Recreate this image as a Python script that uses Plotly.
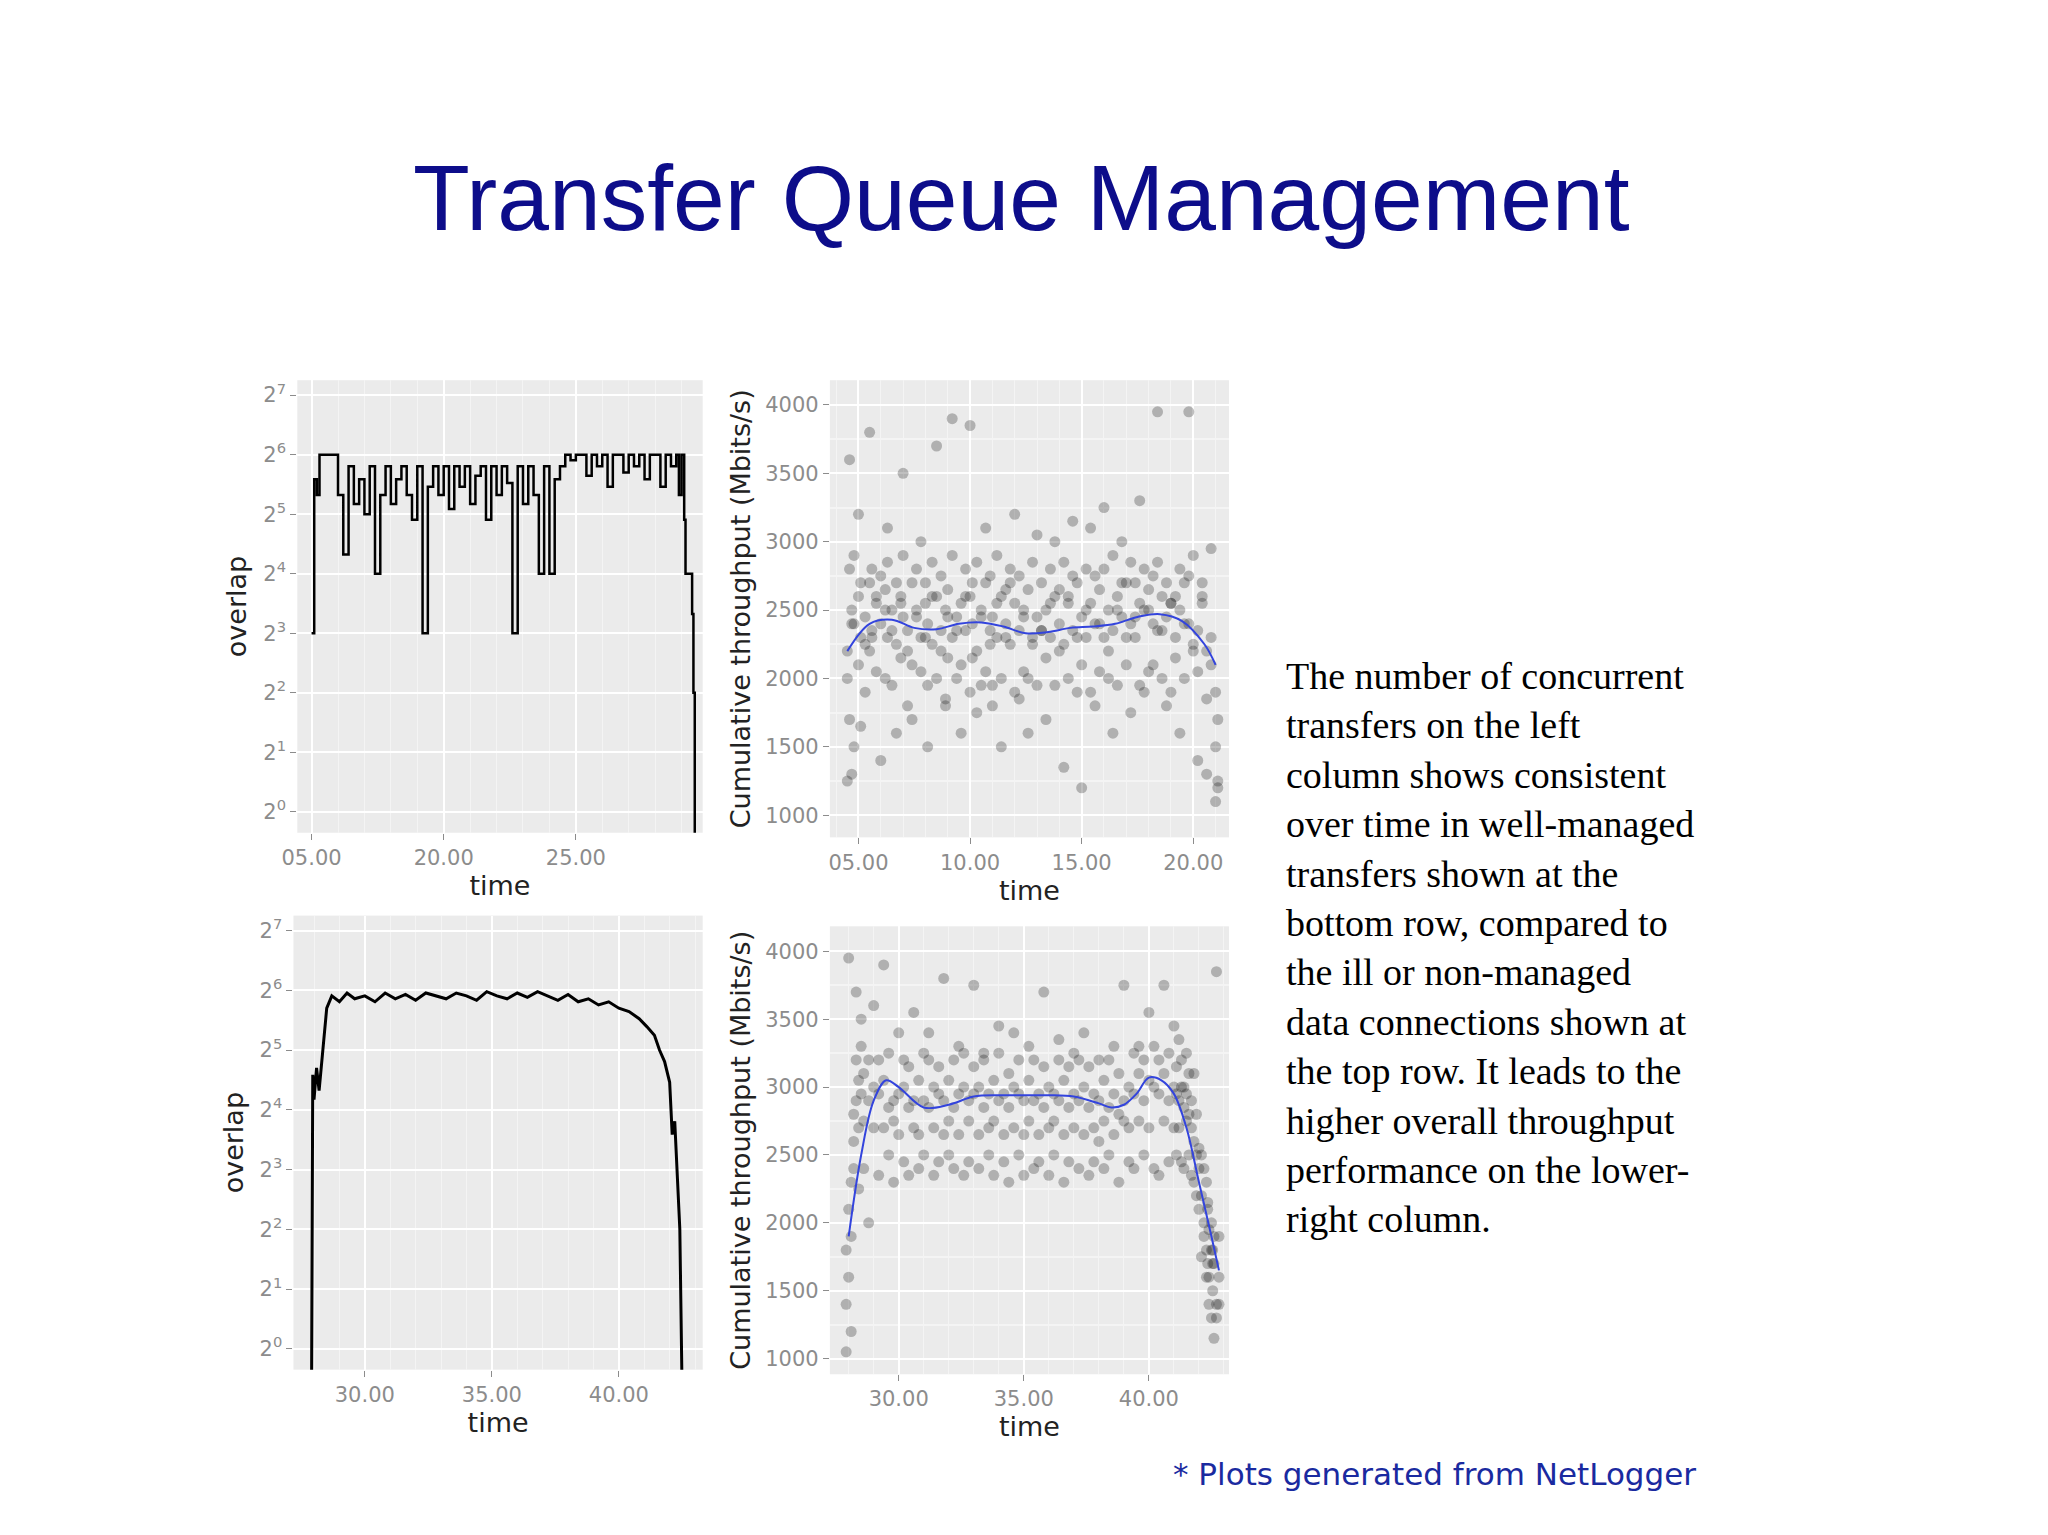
import numpy as np
import plotly.graph_objects as go
from plotly.subplots import make_subplots

# top-left: overlap, unmanaged transfers (time in minutes)
tl_time = [15.0, 15.1, 15.2, 15.3, 15.4, 15.6, 15.8, 16.0, 16.2, 16.4,
           16.6, 16.8, 17.0, 17.2, 17.4, 17.6, 17.8, 18.0, 18.2, 18.4,
           18.6, 18.8, 19.0, 19.2, 19.4, 19.6, 19.8, 20.0, 20.2, 20.4,
           20.6, 20.8, 21.0, 21.2, 21.4, 21.6, 21.8, 22.0, 22.2, 22.4,
           22.6, 22.8, 23.0, 23.2, 23.4, 23.6, 23.8, 24.0, 24.2, 24.4,
           24.6, 24.8, 25.0, 25.2, 25.4, 25.6, 25.8, 26.0, 26.2, 26.4,
           26.6, 26.8, 27.0, 27.2, 27.4, 27.6, 27.8, 28.0, 28.2, 28.4,
           28.6, 28.8, 28.9, 29.0, 29.1, 29.15, 29.3, 29.4, 29.45, 29.5]
tl_overlap = [8, 48, 40, 64, 64, 64, 64, 40, 20, 56,
              36, 48, 32, 56, 16, 40, 56, 36, 48, 56,
              40, 30, 56, 8, 44, 56, 40, 56, 34, 56,
              44, 56, 36, 50, 56, 30, 56, 40, 56, 46,
              8, 56, 36, 56, 40, 16, 56, 16, 48, 56,
              64, 60, 64, 64, 50, 64, 56, 64, 44, 64,
              64, 52, 64, 56, 64, 48, 64, 64, 44, 64,
              56, 64, 40, 64, 30, 16, 16, 10, 4, 0.5]

# bottom-left: overlap, managed transfers
bl_time = [27.9, 27.95, 28.0, 28.1, 28.2, 28.3, 28.4, 28.5, 28.7, 29.0,
           29.3, 29.6, 30.0, 30.4, 30.8, 31.2, 31.6, 32.0, 32.4, 32.8,
           33.2, 33.6, 34.0, 34.4, 34.8, 35.2, 35.6, 36.0, 36.4, 36.8,
           37.2, 37.6, 38.0, 38.4, 38.8, 39.2, 39.6, 40.0, 40.4, 40.8,
           41.1, 41.4, 41.6, 41.8, 42.0, 42.1, 42.2, 42.3, 42.4, 42.5]
bl_overlap = [0.5, 24, 18, 26, 20, 28, 40, 52, 60, 56,
              62, 58, 60, 56, 62, 58, 61, 57, 62, 60,
              58, 62, 60, 57, 63, 60, 58, 62, 59, 63,
              60, 57, 61, 56, 58, 54, 56, 52, 50, 46,
              42, 38, 32, 28, 22, 12, 14, 8, 4, 0.5]

# top-right: throughput samples, unmanaged
tr_time = [4.5, 4.6, 4.7, 4.8, 5.0, 5.1, 5.3, 5.5, 5.6, 5.8,
           6.0, 6.2, 6.3, 6.5, 6.7, 6.9, 7.0, 7.2, 7.4, 7.6,
           7.8, 8.0, 8.1, 8.3, 8.5, 8.7, 8.9, 9.0, 9.2, 9.4,
           9.6, 9.8, 10.0, 10.1, 10.3, 10.5, 10.7, 10.9, 11.0, 11.2,
           11.4, 11.6, 11.8, 12.0, 12.2, 12.4, 12.6, 12.8, 13.0, 13.2,
           13.4, 13.6, 13.8, 14.0, 14.2, 14.4, 14.6, 14.8, 15.0, 15.2,
           15.4, 15.6, 15.8, 16.0, 16.2, 16.4, 16.6, 16.8, 17.0, 17.2,
           17.4, 17.6, 17.8, 18.0, 18.2, 18.4, 18.6, 18.8, 19.0, 19.2,
           19.4, 19.6, 19.8, 20.0, 20.2, 20.4, 20.6, 20.8, 21.0, 21.1]
tr_thr_a = [2200, 1700, 2500, 2400, 2600, 2300, 2450, 2700, 2350, 2550,
            2400, 2650, 2300, 2500, 2250, 2600, 2450, 2350, 2700, 2500,
            2300, 2550, 2400, 2250, 2600, 2350, 2500, 2650, 2300, 2450,
            2550, 2350, 2600, 2400, 2200, 2500, 2700, 2350, 2450, 2300,
            2600, 2400, 2250, 2550, 2350, 2500, 2650, 2300, 2450, 2350,
            2500, 2300, 2600, 2400, 2250, 2550, 2350, 2700, 2450, 2300,
            2550, 2400, 2650, 2300, 2500, 2350, 2600, 2450, 2700, 2400,
            2300, 2550, 2500, 2650, 2400, 2350, 2600, 2450, 2550, 2300,
            2500, 2700, 2400, 2250, 2350, 2600, 2200, 2100, 1900, 1700]
tr_thr_b = [2000, 2800, 1300, 2900, 2100, 2700, 1900, 2200, 2800, 2050,
            2750, 2000, 2850, 1950, 2700, 2150, 2900, 1800, 2100, 2800,
            2050, 2700, 1950, 2850, 2000, 2750, 1850, 2150, 2900, 2000,
            2100, 2800, 1900, 2700, 2850, 1950, 2050, 2750, 1800, 2900,
            2000, 2650, 2800, 1900, 2750, 2050, 2000, 2850, 1950, 2700,
            2150, 2800, 1950, 2650, 2850, 2000, 2750, 1900, 2100, 2800,
            1900, 2750, 2050, 2800, 2000, 2900, 1950, 2700, 2100, 2850,
            2700, 1950, 2800, 2050, 2750, 2850, 2000, 2700, 1900, 2600,
            2800, 2000, 2750, 2900, 2050, 2700, 1850, 2300, 1500, 1200]
tr_thr_c = [1250, 3600, 2400, 1500, 3200, 1650, 2250, 3800, 2300, 2600,
            1400, 2500, 3100, 2350, 1600, 2550, 3500, 2200, 1700, 2450,
            3000, 2300, 1500, 2600, 3700, 2200, 1800, 2450, 3900, 2350,
            1600, 2600, 3850, 2150, 1750, 2450, 3100, 2250, 1950, 2550,
            1500, 2300, 2700, 3200, 1850, 2450, 1600, 2250, 3050, 2350,
            1700, 2550, 3000, 2200, 1350, 2600, 3150, 2300, 1200, 2500,
            3100, 1800, 2400, 3250, 2200, 1600, 2500, 3000, 2300, 1750,
            2450, 3300, 1900, 2500, 2100, 3950, 2350, 1800, 2550, 2150,
            1600, 2400, 3950, 2200, 1400, 2550, 1300, 2950, 1100, 1250]
tr_smooth_t = [4.5, 5.5, 6.5, 7.5, 8.5, 9.5, 10.5, 11.5, 12.5, 13.5,
               14.5, 15.5, 16.5, 17.5, 18.5, 19.5, 20.5, 21.0]
tr_smooth = [2200, 2400, 2430, 2370, 2360, 2400, 2410, 2380, 2330, 2340,
             2370, 2380, 2400, 2450, 2470, 2420, 2250, 2100]

# bottom-right: throughput samples, managed
br_time = [27.9, 28.0, 28.1, 28.2, 28.3, 28.4, 28.5, 28.6, 28.8, 29.0,
           29.2, 29.4, 29.6, 29.8, 30.0, 30.2, 30.4, 30.6, 30.8, 31.0,
           31.2, 31.4, 31.6, 31.8, 32.0, 32.2, 32.4, 32.6, 32.8, 33.0,
           33.2, 33.4, 33.6, 33.8, 34.0, 34.2, 34.4, 34.6, 34.8, 35.0,
           35.2, 35.4, 35.6, 35.8, 36.0, 36.2, 36.4, 36.6, 36.8, 37.0,
           37.2, 37.4, 37.6, 37.8, 38.0, 38.2, 38.4, 38.6, 38.8, 39.0,
           39.2, 39.4, 39.6, 39.8, 40.0, 40.2, 40.4, 40.6, 40.8, 41.0,
           41.1, 41.2, 41.3, 41.4, 41.5, 41.6, 41.7, 41.8, 41.9, 42.0,
           42.1, 42.2, 42.3, 42.35, 42.4, 42.5, 42.55, 42.6, 42.7, 42.8]
br_thr_a = [1800, 1600, 2300, 2600, 2900, 3050, 2950, 3100, 2900, 3000,
            2950, 3050, 2850, 2900, 2950, 3000, 2850, 2900, 3050, 2900,
            2850, 3000, 2950, 2900, 3050, 2850, 2950, 3000, 2900, 2950,
            3000, 2850, 2950, 3050, 2900, 2950, 2850, 3000, 2950, 2900,
            3050, 2900, 2950, 2850, 3000, 2950, 2900, 3050, 2850, 2950,
            2900, 3000, 2850, 2950, 2900, 3050, 2850, 2950, 2800, 2900,
            3000, 2950, 3100, 2900, 3050, 3000, 2950, 3100, 2900, 3000,
            2950, 2900, 3000, 2850, 2950, 2800, 2700, 2600, 2500, 2400,
            2200, 2000, 1800, 1700, 1600, 1800, 1500, 1700, 1400, 1600]
br_thr_b = [1400, 2100, 1900, 2800, 3200, 2700, 3300, 2750, 3200, 2700,
            3200, 2700, 3250, 2750, 2650, 3200, 3150, 2700, 2650, 3250,
            3200, 2700, 3150, 2650, 2750, 3200, 2650, 3250, 2750, 3150,
            2650, 3200, 2700, 2750, 3250, 2650, 3100, 2700, 3200, 2650,
            2750, 3200, 2650, 3150, 2700, 2750, 3200, 2650, 3150, 2700,
            3200, 2650, 3150, 2700, 2600, 2750, 3200, 2650, 3100, 2750,
            2700, 3250, 2750, 3200, 2700, 3300, 3200, 2750, 3250, 2700,
            3150, 2700, 3200, 3000, 2750, 3100, 2900, 2300, 2800, 2100,
            2500, 1900, 2300, 2100, 1950, 2000, 1800, 1900, 1300, 1900]
br_thr_c = [1050, 3950, 1200, 2400, 3700, 2250, 3500, 2400, 2000, 3600,
            2350, 3900, 2500, 2300, 3400, 2450, 2350, 3550, 2400, 2500,
            3400, 2350, 2450, 3800, 2500, 2400, 3300, 2350, 2450, 3750,
            2400, 3250, 2500, 2350, 3450, 2450, 2300, 3400, 2500, 2350,
            3300, 2400, 2450, 3700, 2350, 2500, 3350, 2300, 2450, 3250,
            2400, 3400, 2350, 2450, 3200, 2400, 2500, 3300, 2300, 3750,
            2450, 2400, 3300, 2500, 3550, 2400, 2350, 3750, 2450, 3450,
            2500, 3350, 2450, 2400, 3250, 2500, 2350, 3100, 2200, 2550,
            1750, 2400, 1600, 2150, 1400, 1300, 1700, 1150, 3850, 1400]
br_smooth_t = [28.0, 28.5, 29.0, 29.5, 30.0, 31.0, 32.0, 33.0, 34.0, 35.0, 36.0, 37.0,
               38.0, 38.5, 39.0, 39.5, 40.0, 40.5, 41.0, 41.5, 42.0, 42.5, 42.8]
br_smooth = [1900, 2500, 2900, 3050, 3000, 2850, 2870, 2930, 2940, 2940, 2940, 2930,
             2880, 2850, 2870, 2950, 3070, 3050, 2950, 2700, 2300, 1900, 1650]

GRAY = "#8c8c8c"
fig = make_subplots(rows=2, cols=2)

fig.add_trace(go.Scatter(x=tl_time, y=tl_overlap, mode="lines", line_shape="hv",
                         line=dict(color="black", width=2.5)), row=1, col=1)
fig.add_trace(go.Scatter(x=bl_time, y=bl_overlap, mode="lines",
                         line=dict(color="black", width=3)), row=2, col=1)

for t, ys, st, sm, r in [(tr_time, [tr_thr_a, tr_thr_b, tr_thr_c], tr_smooth_t, tr_smooth, 1),
                         (br_time, [br_thr_a, br_thr_b, br_thr_c], br_smooth_t, br_smooth, 2)]:
    for y in ys:
        fig.add_trace(go.Scatter(x=t, y=y, mode="markers",
                                 marker=dict(color="black", opacity=0.25, size=11)), row=r, col=2)
    fig.add_trace(go.Scatter(x=st, y=sm, mode="lines", line_shape="spline",
                             line=dict(color="#3344dd", width=2)), row=r, col=2)

tickf = dict(size=21, color=GRAY, family="DejaVu Sans")
titlef = dict(size=27, color="#222", family="DejaVu Sans")
common = dict(showgrid=True, gridcolor="white", gridwidth=2, zeroline=False,
              ticks="outside", tickcolor=GRAY, ticklen=6, tickfont=tickf, title_font=titlef)

pow_vals = [1, 2, 4, 8, 16, 32, 64, 128]
pow_text = [f"2<sup>{i}</sup>" for i in range(8)]
log_range = [np.log10(2 ** -0.35), np.log10(2 ** 7.25)]

fig.update_xaxes(**common, minor=dict(showgrid=True, gridcolor="#f4f4f4", gridwidth=1))
fig.update_yaxes(**common)

dx = -0.009
dy = 0.005
fig.update_layout(
    xaxis=dict(domain=[0.1435 + dx, 0.343 + dx], range=[14.46, 29.8], tickvals=[15, 20, 25, 30],
               ticktext=["05.00", "20.00", "25.00", "30."], title=dict(text="time", standoff=2),
               anchor="y"),
    yaxis=dict(domain=[0.458 + dy, 0.753 + dy], type="log", range=log_range, tickvals=pow_vals,
               ticktext=pow_text, title=dict(text="overlap", standoff=8), anchor="x"),
    xaxis2=dict(domain=[0.4056 + dx, 0.602 + dx], range=[3.72, 21.6], tickvals=[5, 10, 15, 20],
                ticktext=["05.00", "10.00", "15.00", "20.00"], title=dict(text="time", standoff=2),
                anchor="y2"),
    yaxis2=dict(domain=[0.455 + dy, 0.753 + dy], range=[838, 4181],
                tickvals=[1000, 1500, 2000, 2500, 3000, 3500, 4000],
                title=dict(text="Cumulative throughput (Mbits/s)", standoff=6), anchor="x2",
                minor=dict(showgrid=True, gridcolor="#f4f4f4", dtick=250, tick0=0)),
    xaxis3=dict(domain=[0.1416 + dx, 0.343 + dx], range=[27.19, 43.3], tickvals=[30, 35, 40, 45],
                ticktext=["30.00", "35.00", "40.00", "0"], title=dict(text="time", standoff=2),
                anchor="y3"),
    yaxis3=dict(domain=[0.108 + dy, 0.404 + dy], type="log", range=log_range, tickvals=pow_vals,
                ticktext=pow_text, title=dict(text="overlap", standoff=8), anchor="x3"),
    xaxis4=dict(domain=[0.4056 + dx, 0.602 + dx], range=[27.25, 43.2], tickvals=[30, 35, 40, 45],
                ticktext=["30.00", "35.00", "40.00", "0"], title=dict(text="time", standoff=2),
                anchor="y4"),
    yaxis4=dict(domain=[0.105 + dy, 0.397 + dy], range=[885, 4184],
                tickvals=[1000, 1500, 2000, 2500, 3000, 3500, 4000],
                title=dict(text="Cumulative throughput (Mbits/s)", standoff=6), anchor="x4",
                minor=dict(showgrid=True, gridcolor="#f4f4f4", dtick=250, tick0=0)),
)

fig.update_layout(
    width=2048, height=1535, showlegend=False,
    paper_bgcolor="white", plot_bgcolor="#ebebeb",
    margin=dict(l=0, r=0, t=0, b=0),
    annotations=[
        dict(text="Transfer Queue Management", x=0.5 + dx, y=0.877, xref="paper", yref="paper",
             xanchor="center", yanchor="middle", showarrow=False,
             font=dict(size=93, color="#0d0d8a", family="Liberation Sans")),
        dict(text="The number of concurrent<br>transfers on the left<br>column shows consistent<br>"
                  "over time in well-managed<br>transfers shown at the<br>bottom row, compared to<br>"
                  "the ill or non-managed<br>data connections shown at<br>the top row. It leads to the<br>"
                  "higher overall throughput<br>performance on the lower-<br>right column.",
             x=0.629 + dx, y=0.58, xref="paper", yref="paper", xanchor="left", yanchor="top",
             align="left", showarrow=False,
             font=dict(size=38, color="black", family="Liberation Serif")),
        dict(text="* Plots generated from NetLogger", x=0.703 + dx, y=0.045, xref="paper", yref="paper",
             xanchor="center", yanchor="middle", showarrow=False,
             font=dict(size=31, color="#1a2aa0", family="DejaVu Sans")),
    ],
)

fig.write_html("out.html")
